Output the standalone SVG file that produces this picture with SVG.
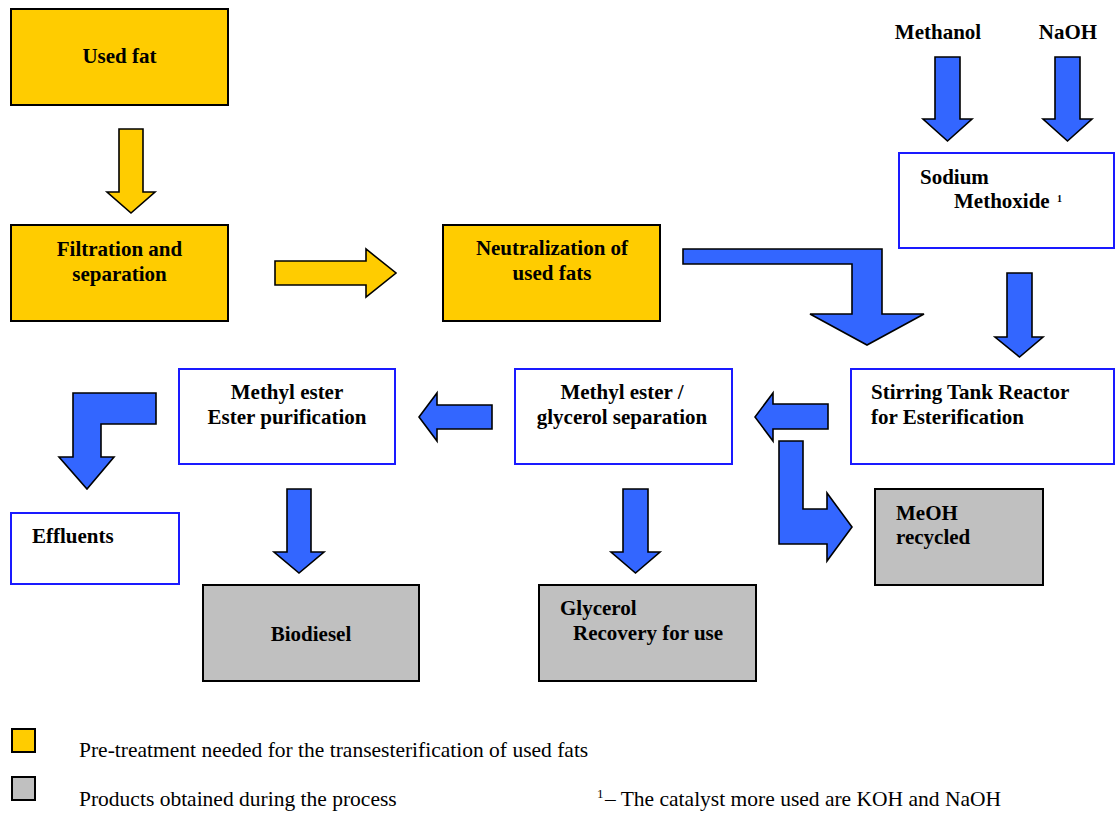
<svg xmlns="http://www.w3.org/2000/svg" width="1115" height="814" viewBox="0 0 1115 814">
<style>
.y{fill:#FFCC00;stroke:#000;stroke-width:2}
.g{fill:#C0C0C0;stroke:#000;stroke-width:2}
.w{fill:#fff;stroke:#1a1aff;stroke-width:2}
.ab{fill:#3366FF;stroke:#000;stroke-width:1.6;stroke-linejoin:miter}
.ay{fill:#FFCC00;stroke:#000;stroke-width:1.6;stroke-linejoin:miter}
.t{font-family:"Liberation Serif","Times New Roman",serif;font-weight:bold;font-size:21px;fill:#000}
.c{text-anchor:middle}
.l{font-family:"Liberation Serif","Times New Roman",serif;font-size:21.5px;fill:#000}
</style>
<rect width="1115" height="814" fill="#fff"/>
<g id="connectors">
<path class="ay" d="M119,129 L143,129 L143,192 L155,192 L131,213 L107,192 L119,192 Z"/>
<path class="ay" d="M275,261 L366,261 L366,249 L396,273 L366,297 L366,285 L275,285 Z"/>
<path class="ab" d="M935,57 L960,57 L960,119 L972,119 L947.5,141 L923,119 L935,119 Z"/>
<path class="ab" d="M1055,57 L1080,57 L1080,119 L1092,119 L1067.5,141 L1043,119 L1055,119 Z"/>
<path class="ab" d="M1007,273 L1032,273 L1032,337 L1043,337 L1019.5,357 L995,337 L1007,337 Z"/>
<path class="ab" d="M683,249 L882,249 L882,314 L924,314 L867,345 L810,314 L852,314 L852,264 L683,264 Z"/>
<path class="ab" d="M828,404 L773,404 L773,393 L755,417 L773,441 L773,429 L828,429 Z"/>
<path class="ab" d="M492,405 L437,405 L437,393 L419,417 L437,441 L437,429 L492,429 Z"/>
<path class="ab" d="M779,441 L803,441 L803,509 L827,509 L827,493 L852,527 L827,561 L827,544 L779,544 Z"/>
<path class="ab" d="M287,489 L311,489 L311,552 L324,552 L299,573 L274,552 L287,552 Z"/>
<path class="ab" d="M623,489 L648,489 L648,552 L660,552 L635.5,573 L611,552 L623,552 Z"/>
<path class="ab" d="M73,393 L156,393 L156,424 L101,424 L101,457 L114,457 L87,489 L59,457 L73,457 Z"/>
</g>
<g id="used-fat"><rect class="y" x="11" y="9" width="217" height="96"/><text class="t c" x="119.5" y="63">Used fat</text></g>
<g id="filtration"><rect class="y" x="11" y="225" width="217" height="96"/><text class="t c" x="119.5" y="256">Filtration and</text><text class="t c" x="119.5" y="281">separation</text></g>
<g id="neutralization"><rect class="y" x="443" y="225" width="217" height="96"/><text class="t c" x="552" y="255">Neutralization of</text><text class="t c" x="552" y="280">used fats</text></g>
<g id="methanol"><text class="t c" x="938" y="39">Methanol</text></g>
<g id="naoh"><text class="t c" x="1068" y="39">NaOH</text></g>
<g id="sodium-methoxide"><rect class="w" x="899" y="153" width="215" height="95"/><text class="t" x="920" y="184">Sodium</text><text class="t" x="954" y="208">Methoxide</text><text class="t" x="1057" y="202" style="font-size:10px">1</text></g>
<g id="stirring-tank"><rect class="w" x="851" y="369" width="263" height="95"/><text class="t" x="871" y="399">Stirring Tank Reactor</text><text class="t" x="871" y="424">for Esterification</text></g>
<g id="separation"><rect class="w" x="515" y="369" width="217" height="95"/><text class="t c" x="622" y="399">Methyl ester /</text><text class="t c" x="622" y="424">glycerol separation</text></g>
<g id="purification"><rect class="w" x="179" y="369" width="216" height="95"/><text class="t c" x="287" y="399">Methyl ester</text><text class="t c" x="287" y="424">Ester purification</text></g>
<g id="effluents"><rect class="w" x="11" y="513" width="168" height="71"/><text class="t" x="32" y="543">Effluents</text></g>
<g id="biodiesel"><rect class="g" x="203" y="585" width="216" height="96"/><text class="t c" x="311" y="641">Biodiesel</text></g>
<g id="glycerol"><rect class="g" x="539" y="585" width="217" height="96"/><text class="t" x="560" y="615">Glycerol</text><text class="t" x="573" y="640">Recovery for use</text></g>
<g id="meoh-recycled"><rect class="g" x="875" y="489" width="168" height="96"/><text class="t" x="896" y="520">MeOH</text><text class="t" x="896" y="544">recycled</text></g>
<g id="legend">
<rect class="y" x="12" y="729" width="23" height="23"/>
<text class="l" x="79" y="757">Pre-treatment needed for the transesterification of used fats</text>
<rect class="g" x="12" y="777" width="23" height="23"/>
<text class="l" x="79" y="806">Products obtained during the process</text>
<text class="l" x="597" y="798" style="font-size:13px">1</text>
<text class="l" x="605" y="806">– The catalyst more used are KOH and NaOH</text>
</g>
</svg>
